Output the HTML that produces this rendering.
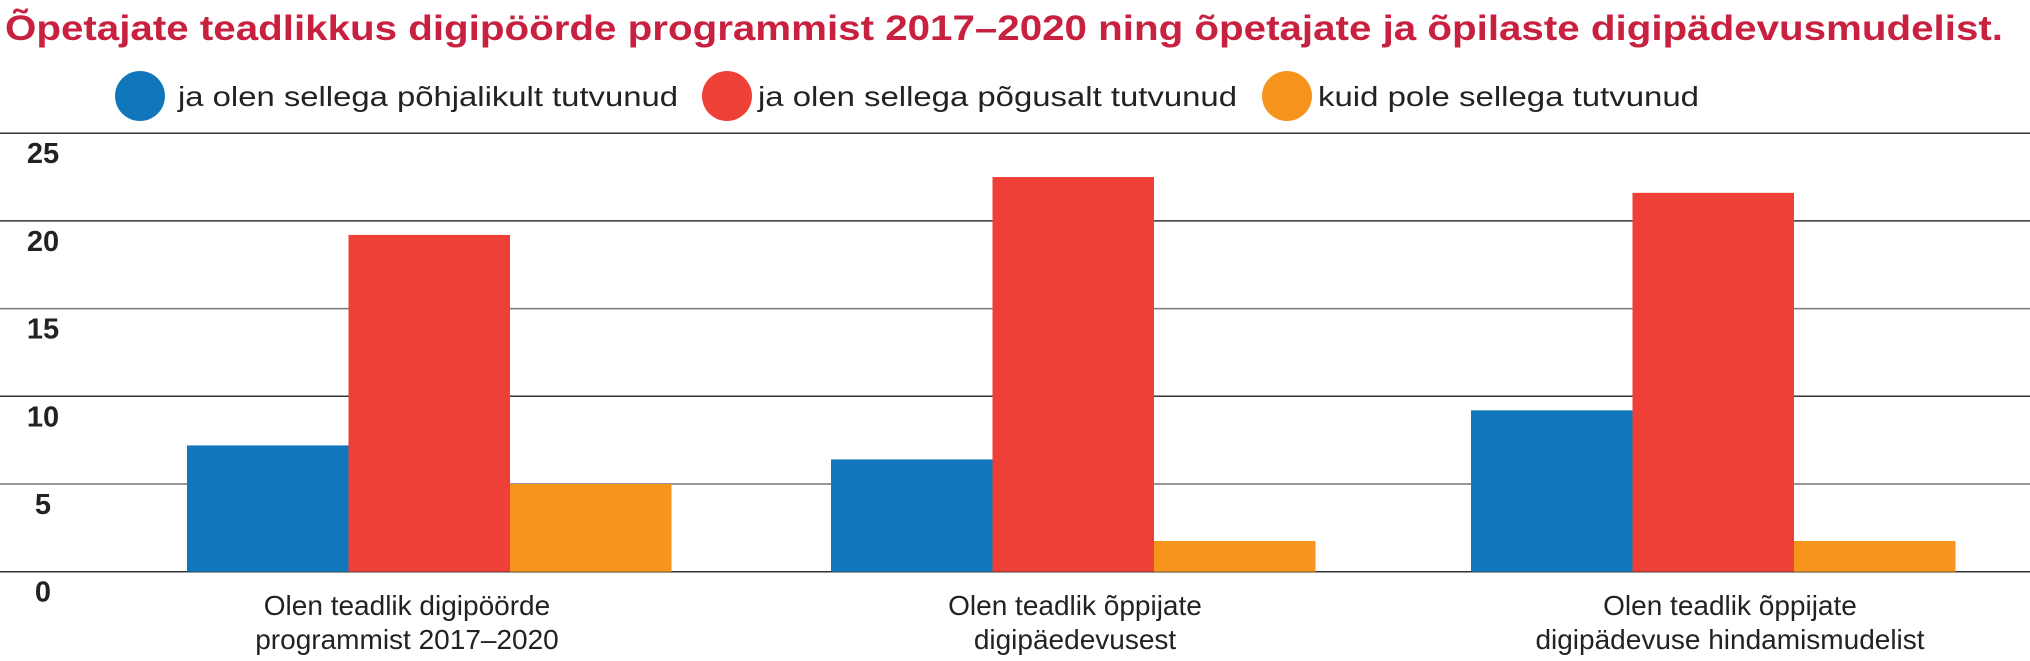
<!DOCTYPE html>
<html><head><meta charset="utf-8"><style>
html,body{margin:0;padding:0;background:#fff;}
svg{display:block;font-family:"Liberation Sans",sans-serif;}
</style></head><body>
<svg id="chart" width="2030" height="661" viewBox="0 0 2030 661" xmlns="http://www.w3.org/2000/svg">
<text x="5" y="40" font-size="35" font-weight="bold" fill="#c8203f" textLength="1998" lengthAdjust="spacingAndGlyphs">Õpetajate teadlikkus digipöörde programmist 2017–2020 ning õpetajate ja õpilaste digipädevusmudelist.</text>
<g id="legend">
<g>
<ellipse cx="140" cy="96" rx="25" ry="25" fill="#1177bd"/>
<text x="178" y="106" font-size="28" fill="#222" textLength="500" lengthAdjust="spacingAndGlyphs">ja olen sellega põhjalikult tutvunud</text></g>
<g>
<ellipse cx="727" cy="96" rx="25" ry="25" fill="#ee4037"/>
<text x="758" y="106" font-size="28" fill="#222" textLength="479" lengthAdjust="spacingAndGlyphs">ja olen sellega põgusalt tutvunud</text></g>
<g>
<ellipse cx="1287" cy="96" rx="25" ry="25" fill="#f6941e"/>
<text x="1318" y="106" font-size="28" fill="#222" textLength="381" lengthAdjust="spacingAndGlyphs">kuid pole sellega tutvunud</text></g>
</g>
<g id="grid"></g><g id="bars"></g><g id="xlabels"></g>
</svg>
<script>
const categories1 = ["Olen teadlik digipöörde","Olen teadlik õppijate","Olen teadlik õppijate"];
const categories2 = ["programmist 2017–2020","digipäedevusest","digipädevuse hindamismudelist"];
const seriesThorough = [7.2, 6.4, 9.2];
const seriesBrief = [19.2, 22.5, 21.6];
const seriesNot = [5.0, 1.75, 1.75];
const yTicks = [0, 5, 10, 15, 20, 25];
const yTickLabels = ["0","5","10","15","20","25"];

const NS = "http://www.w3.org/2000/svg";
const y0 = 571.7, pxPerUnit = (571.7-133.2)/25;
function yScale(v){ return y0 - v*pxPerUnit; }
const groupStart = [187, 831, 1471], barW = 161.5;
function xBar(gi, si){ return groupStart[gi] + si*barW; }
const lineW = [339, 0, 0];

const grid = document.getElementById('grid');
yTicks.forEach((t,i)=>{
  const y = yScale(t);
  const l = document.createElementNS(NS,'line');
  
  
  l.setAttribute('x1',0); l.setAttribute('x2',2030);
  l.setAttribute('y1',y); l.setAttribute('y2',y);
  l.setAttribute('stroke', (t===5||t===15)?'#777':'#333');
  l.setAttribute('stroke-width',1.5);
  grid.appendChild(l);
  const tx = document.createElementNS(NS,'text');
  
  
  tx.setAttribute('x',43); tx.setAttribute('y',y+30);
  tx.setAttribute('text-anchor','middle');
  tx.setAttribute('font-size','29'); tx.setAttribute('font-weight','bold');
  tx.setAttribute('fill','#222');
  tx.textContent = yTickLabels[i];
  grid.appendChild(tx);
});
const bars = document.getElementById('bars');
const series = [[seriesThorough,'#1177bd','thorough'],[seriesBrief,'#ee4037','brief'],[seriesNot,'#f6941e','not']];
categories1.forEach((c,gi)=>{
  series.forEach(([vals,col,nm],si)=>{
    const r = document.createElementNS(NS,'rect');
    
    
    r.setAttribute('x',xBar(gi,si)); r.setAttribute('width',barW);
    r.setAttribute('y',yScale(vals[gi])); r.setAttribute('height',y0-yScale(vals[gi]));
    r.setAttribute('fill',col);
    bars.appendChild(r);
  });
});
const xl = document.getElementById('xlabels');
const labelX = [407, 1075, 1730];
categories1.forEach((c,gi)=>{
  [[c,605+10],[categories2[gi],639+10]].forEach(([s,y],li)=>{
    const t = document.createElementNS(NS,'text');
    
    
    t.setAttribute('x',labelX[gi]); t.setAttribute('y',y);
    t.setAttribute('text-anchor','middle');
    t.setAttribute('font-size','28'); t.setAttribute('fill','#222');
    t.textContent = s;
    xl.appendChild(t);
  });
});
</script>
</body></html>
